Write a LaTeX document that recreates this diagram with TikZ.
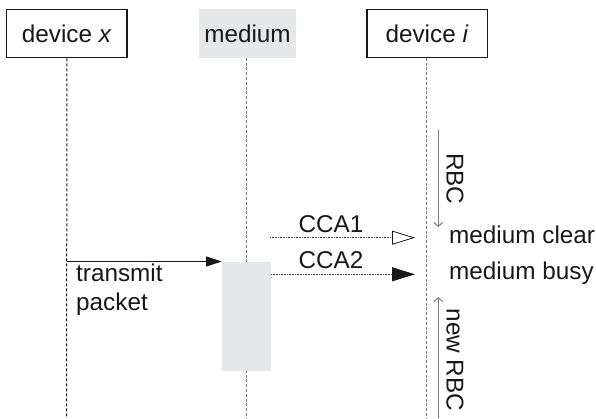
\documentclass[tikz,border=0pt]{standalone}
\usepackage{fontspec}
\setmainfont{Liberation Sans}
\usetikzlibrary{arrows.meta}
\definecolor{ink}{HTML}{1A1718}
\definecolor{shade}{HTML}{E6E7E8}
\definecolor{midgray}{HTML}{7A7A7A}
\begin{document}
\begin{tikzpicture}[x=1pt,y=-1pt,
  font=\fontsize{24.3}{28.3}\selectfont,
  every node/.style={text=ink},
  devbox/.style={draw=ink,line width=1.3pt,fill=white,minimum width=120.3pt,minimum height=48.4pt,inner sep=0pt},
  medbox/.style={fill=shade,minimum width=97pt,minimum height=48.4pt,inner sep=0pt},
  lifeblack/.style={draw=ink,line width=1pt,dash pattern=on 3pt off 2pt},
  lifegray/.style={draw=midgray,line width=1.1pt,dash pattern=on 3pt off 1.8pt},
  msgdot/.style={draw=ink!85,line width=0.8pt,dash pattern=on 0.8pt off 0.8pt},
  timer/.style={draw=midgray,line width=1pt,-{Straight Barb[length=4pt,width=9pt]}},
  lbl/.style={inner sep=0pt}]
\useasboundingbox (0,0) rectangle (596,418);

% participants
\node[devbox] (dx) at (66.8,33.5) {device \textit{x}};
\node[medbox] (med) at (247.5,33.5) {medium};
\node[devbox] (di) at (427,33.5) {device \textit{i}};

% lifeline ends
\coordinate (dxend) at (66.7,418);
\coordinate (medtop) at (246.7,57.7);
\coordinate (medend) at (246.7,418);
\coordinate (ditop) at (426.7,57.7);
\coordinate (diend) at (426.7,418);

\draw[lifeblack] (dx.south) -- (dxend);
\draw[lifegray] (medtop) -- (medend);
\draw[lifegray] (ditop) -- (diend);

% medium occupied by the packet
\node[fill=shade,minimum width=49pt,minimum height=109pt,inner sep=0pt] (pkt) at (246.5,316.5) {};

% packet transmission
\coordinate (tx) at (66.7,261.5);
\draw[draw=ink,line width=1.2pt,-{Triangle[length=15.6pt,width=10pt,color=ink]}] (tx) -- (tx -| pkt.west);
\node[lbl,anchor=base west,align=left] (txl) at (76,310) {transmit\\packet};

% clear channel assessments
\coordinate (c1s) at (270,237.7);
\coordinate (c1e) at (415,237.7);
\coordinate (c2s) at (271,274.3);
\coordinate (c2e) at (415,274.3);
\draw[msgdot,-{Triangle[open,length=23pt,width=14pt,line width=0.8pt,color=ink]}] (c1s) -- (c1e);
\draw[msgdot,-{Triangle[length=23pt,width=14pt,color=ink]}] (c2s) -- (c2e);
\node[lbl,anchor=base] (cca1) at (331,232.3) {CCA1};
\node[lbl,anchor=base] (cca2) at (331,268.3) {CCA2};

% outcomes at device i
\node[lbl,anchor=base west] (clr) at (449,243.3) {medium clear};
\node[lbl,anchor=base west] (bsy) at (449,279.3) {medium busy};

% backoff counters
\coordinate (r1s) at (438.3,130);
\coordinate (r1e) at (438.3,227);
\coordinate (r2s) at (438.3,418);
\coordinate (r2e) at (438.3,297);
\draw[timer] (r1s) -- (r1e);
\draw[timer] (r2s) -- (r2e);
\node[lbl,anchor=base west,rotate=-90] (rbc) at (446.7,153) {RBC};
\node[lbl,anchor=base west,rotate=-90] (nrbc) at (446.7,308.3) {new RBC};
\end{tikzpicture}
\end{document}
